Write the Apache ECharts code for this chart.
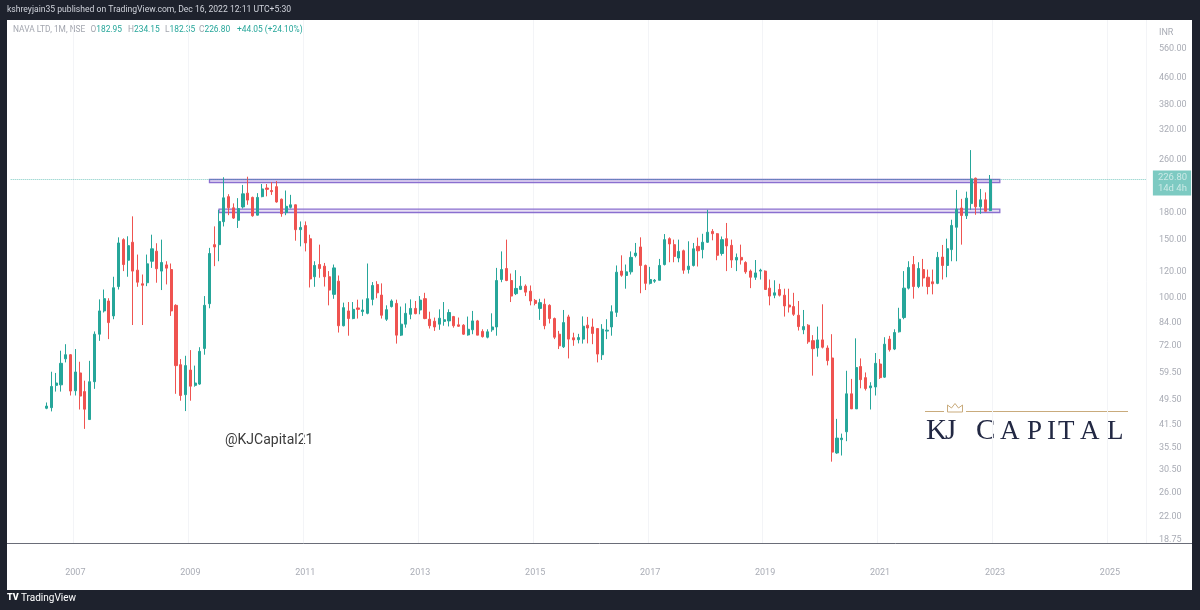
<!DOCTYPE html>
<html><head><meta charset="utf-8">
<script src="https://cdn.jsdelivr.net/npm/echarts@6/dist/echarts.min.js"></script>
<style>html,body{margin:0;padding:0;background:#1e222d;}#c{width:1200px;height:610px;}</style>
</head><body><div id="c"></div>
<script>
// ---- data (monthly, NAVA LTD, NSE) ----
const firstMonth = '2006-07';
const opens = [
46.6,46.8,54.6,54.8,65.6,67.5,
52.6,59.5,52.3,43.1,56.0,77.8,91.4,97.9,88.3,108.2,149.7,129.8,
147.0,121.2,110.3,111.1,128.9,138.2,120.4,125.7,121.7,95.0,63.0,51.2,
60.7,54.6,55.1,70.5,96.1,144.6,144.6,169.5,201.6,186.6,171.1,187.7,
206.5,200.5,177.3,201.6,214.0,210.3,216.0,198.0,180.5,187.2,190.5,160.4,
165.0,150.6,115.8,126.0,124.6,115.8,102.5,112.3,82.5,91.4,86.7,93.3,
91.0,89.9,99.0,109.8,102.0,86.3,94.2,96.3,77.3,83.4,89.3,93.0,
92.0,99.5,86.3,85.1,83.4,85.0,85.3,87.9,83.0,82.8,77.4,80.2,
85.3,79.3,76.2,80.2,81.8,113.6,122.6,112.8,103.0,106.1,108.5,104.8,
98.3,93.0,95.7,95.0,86.7,77.8,71.3,87.7,75.9,74.9,75.2,82.8,
81.8,80.9,67.5,79.5,81.8,90.5,120.4,116.8,119.8,134.0,142.3,125.2,
110.6,112.3,113.0,126.0,150.7,144.6,131.8,138.6,121.7,125.2,142.9,139.7,
147.0,158.5,156.0,136.0,150.7,143.9,130.0,132.4,127.8,120.4,115.4,120.4,
120.4,107.0,101.9,106.0,101.9,95.2,94.2,88.7,80.2,82.8,74.4,70.7,
74.8,70.7,66.0,34.2,37.5,39.6,51.5,46.4,62.2,57.6,53.7,54.0,
63.3,57.8,75.2,70.2,79.1,87.3,107.0,126.0,108.2,121.7,115.4,111.8,
110.6,132.7,125.2,139.7,163.1,186.3,176.6,192.1,229.0,187.9,197.2,182.95
];
const highs = [
48.5,60.0,59.5,69.4,72.6,67.8,
70.2,64.3,56.4,64.7,79.3,99.0,106.0,99.8,115.8,152.1,151.1,153.2,
175.9,135.0,117.6,135.0,154.9,146.0,149.7,128.9,126.9,95.7,65.5,67.0,
69.7,62.6,71.1,101.3,141.4,164.1,184.0,230.5,205.0,192.4,199.5,218.6,
231.4,201.6,206.5,220.0,220.0,223.0,224.6,199.0,210.3,204.1,191.0,169.8,
169.8,154.9,128.9,144.6,127.4,120.4,126.0,116.8,96.8,97.2,97.2,98.8,
98.9,126.9,111.6,112.3,110.6,95.0,99.0,98.8,94.2,96.3,99.0,97.9,
101.3,103.6,90.9,87.3,92.4,97.2,92.4,88.3,87.3,83.4,87.9,91.4,
85.9,80.5,80.5,89.9,123.1,138.0,149.7,118.4,121.2,116.3,109.8,109.0,
99.3,99.4,99.5,95.7,87.3,79.6,92.0,89.0,78.6,78.0,88.0,87.7,
86.7,81.0,83.4,86.3,95.0,125.2,134.3,126.0,138.0,146.3,152.1,126.0,
124.0,114.0,131.0,155.6,152.1,149.7,149.7,139.7,148.0,146.3,151.8,155.9,
184.0,161.0,156.6,153.0,168.0,149.7,136.0,144.6,128.9,121.7,130.0,122.4,
121.0,113.6,113.0,110.3,106.6,106.6,103.6,97.9,92.0,83.4,77.3,82.0,
95.7,72.0,77.8,43.3,39.1,60.4,57.1,75.6,65.8,59.7,55.8,68.3,
65.5,76.2,76.9,80.5,93.4,120.4,128.9,133.6,128.0,131.0,121.7,121.7,
137.5,144.3,150.7,171.8,211.2,198.5,208.7,278.2,230.0,212.6,207.6,234.15
];
const lows = [
46.3,45.6,52.3,52.3,64.0,50.9,
50.9,46.2,40.4,43.0,53.3,74.3,90.4,75.2,86.3,106.0,120.4,115.8,
82.9,108.0,82.9,108.5,123.1,111.1,105.6,109.8,88.3,51.5,49.1,45.7,
49.1,54.1,54.8,67.5,93.1,124.6,128.9,164.0,177.3,172.7,162.3,185.7,
190.5,175.4,177.0,200.7,202.0,204.0,193.3,175.4,177.3,185.7,148.6,142.9,
138.0,107.5,108.0,115.0,108.2,95.0,99.4,78.7,82.1,77.0,86.3,86.7,
88.3,89.3,95.0,99.8,86.7,85.3,93.6,72.9,76.8,81.4,86.3,89.3,
89.3,86.3,80.9,79.6,80.2,82.5,82.1,81.4,81.8,77.4,77.0,77.8,
77.3,76.0,75.6,79.1,77.0,111.5,112.3,97.2,102.0,105.6,101.3,95.0,
95.0,85.9,80.5,83.8,75.2,70.2,70.7,65.8,71.8,73.0,72.9,73.0,
72.6,64.0,65.1,75.2,77.0,87.7,115.8,106.6,117.6,132.4,103.3,105.6,
109.8,111.0,113.0,125.2,128.0,128.0,128.0,118.2,118.4,124.3,124.3,131.5,
146.3,149.0,129.8,134.0,120.4,123.1,120.4,126.0,118.2,107.0,113.3,113.6,
106.0,95.0,99.8,101.0,87.9,90.4,88.3,79.8,77.8,72.8,58.4,66.6,
70.5,62.7,32.2,34.0,33.6,37.1,46.4,46.4,53.5,52.7,46.2,50.9,
57.1,57.5,69.0,69.7,78.7,86.3,106.0,99.5,107.0,108.2,102.5,102.5,
110.0,113.6,115.4,128.9,128.9,144.6,172.7,184.0,177.8,179.0,181.6,182.35
];
const closes = [
47.3,54.2,55.5,63.6,67.5,52.5,
59.9,50.7,46.3,56.0,77.8,91.4,99.5,84.3,107.3,146.3,126.0,143.6,
120.4,111.5,109.2,126.6,140.5,122.4,127.8,122.9,91.4,62.6,50.9,62.6,
54.3,55.5,69.1,95.0,136.0,142.3,169.8,199.9,186.6,173.8,185.7,205.5,
196.8,176.6,200.5,212.6,212.0,208.7,194.3,179.2,188.5,190.5,160.4,162.9,
146.3,114.0,125.2,122.6,115.8,105.6,123.1,82.5,93.5,86.7,92.4,92.4,
92.0,99.5,109.0,103.6,88.7,92.2,97.9,77.3,83.4,89.9,93.0,89.7,
98.5,86.7,82.5,81.8,86.9,86.0,90.4,82.5,82.2,77.8,80.5,85.3,
77.3,76.5,79.1,81.8,112.8,121.7,112.8,101.3,106.8,108.5,104.1,97.9,
96.3,96.8,82.5,86.7,76.2,71.8,84.3,75.2,74.8,76.0,82.2,81.2,
78.2,67.8,80.5,80.0,90.9,119.5,117.0,119.8,132.4,136.4,125.2,110.6,
113.6,113.0,125.2,149.7,145.3,133.3,138.0,121.2,124.6,140.5,138.6,147.0,
157.6,156.0,134.3,149.7,143.3,130.0,132.4,130.0,119.8,115.4,118.9,121.2,
106.0,101.3,103.6,101.9,94.6,93.9,89.3,82.0,82.0,73.8,70.4,74.8,
71.1,64.8,34.4,37.9,37.9,51.5,46.4,61.8,56.8,53.4,54.4,63.6,
57.6,72.6,69.9,78.7,86.3,107.0,123.5,108.2,122.6,114.8,108.2,110.3,
132.4,125.2,140.6,165.2,184.9,176.9,199.5,227.9,187.9,197.2,182.2,226.8
];
const priceTicks = [560,460,380,320,260,180,150,120,100,84,72,59.5,49.5,41.5,35.5,30.5,26,22,18.75];
const upperZone = [222.3, 227.0];
const lowerZone = [180.6, 184.8];
const lastPrice = 226.8;
const axisStart = '2005-12', axisEnd = '2025-08';

// ---- categories (months) ----
const cats = [];
{
  let y = +axisStart.slice(0,4), m = +axisStart.slice(5,7);
  while (true) {
    const s = y + '-' + String(m).padStart(2,'0');
    cats.push(s);
    if (s === axisEnd) break;
    m++; if (m > 12) { m = 1; y++; }
  }
}
const start = cats.indexOf(firstMonth);
const candles = cats.map((c, i) => {
  const k = i - start;
  return (k >= 0 && k < opens.length) ? [opens[k], closes[k], lows[k], highs[k]] : '-';
});
const isYearLabel = (i, v) => v.endsWith('-01') && (+v.slice(0,4)) % 2 === 1;

const UP = '#26a69a', DOWN = '#ef5350';
const FONT = 'Roboto, sans-serif';
const HS = 8.4; // header font size
const chart = echarts.init(document.getElementById('c'));
const txt = (x, y, text, fill, size, extra) => Object.assign({
  type: 'text', x, y, silent: true,
  style: Object.assign({ text, fill, fontSize: size, fontFamily: FONT, verticalAlign: 'middle' }, extra || {})
});
const ohlc = (x, k, v) => ({
  type: 'text', x, y: 30, silent: true,
  style: { text: '{g|' + k + '}{t|' + v + '}', verticalAlign: 'middle',
    rich: { g: { fill: '#a3a6af', fontSize: HS, fontFamily: FONT }, t: { fill: UP, fontSize: HS, fontFamily: FONT } } }
});
const serifLetters = [['K',926,29,446],['J',945,29,446],['C',976,29,446],['A',1000,27,445.5],['P',1027,27,445.5],['I',1047,27,445.5],['T',1058,27,445.5],['A',1080,27,445.5],['L',1107,27,445.5]];

chart.setOption({
  animation: false,
  backgroundColor: '#1e222d',
  grid: { left: 10.7, top: 20, width: 1135.2, height: 523 },
  xAxis: {
    type: 'category', data: cats, boundaryGap: true,
    axisLine: { show: false }, axisTick: { show: false },
    axisLabel: { interval: isYearLabel, formatter: v => v.slice(0,4), color: '#a9acb5', fontSize: 9, margin: 25, fontFamily: FONT },
    splitLine: { show: true, interval: isYearLabel, lineStyle: { color: '#f3f4f7' } }
  },
  yAxis: {
    type: 'log', position: 'right', min: 18.34, max: 684.5,
    axisLine: { show: false }, axisTick: { show: false },
    axisLabel: { customValues: priceTicks, formatter: v => (+v).toFixed(2), color: '#a9acb5', fontSize: 9, margin: 13, fontFamily: FONT },
    splitLine: { show: false }
  },
  series: [{
    type: 'candlestick', data: candles, barWidth: 2.6, silent: true,
    itemStyle: { color: UP, color0: DOWN, borderColor: UP, borderColor0: DOWN, borderWidth: 1 },
    markArea: {
      silent: true,
      itemStyle: { color: 'rgba(149,117,205,0.22)', borderColor: '#8a6fd0', borderWidth: 1.3 },
      data: [
        [{ xAxis: '2009-05', yAxis: upperZone[0] }, { xAxis: '2023-02', yAxis: upperZone[1] }],
        [{ xAxis: '2009-07', yAxis: lowerZone[0] }, { xAxis: '2023-02', yAxis: lowerZone[1] }]
      ]
    },
    markLine: {
      silent: true, symbol: ['none','none'],
      lineStyle: { color: UP, type: 'dotted', width: 1, opacity: 0.6 },
      label: {
        show: true, position: 'end', distance: 7, offset: [0, 3.5],
        formatter: '{p|226.80}\n{d|14d 4h}',
        backgroundColor: UP, padding: [2, 4, 2, 5],
        rich: { p: { color: '#fff', fontSize: 9.5, lineHeight: 10.5, fontFamily: FONT },
                d: { color: '#fff', fontSize: 9.5, lineHeight: 10.5, fontFamily: FONT } }
      },
      data: [{ yAxis: lastPrice }]
    }
  }],
  graphic: [
    { type: 'rect', z: -100, silent: true, shape: { x: 7, y: 20, width: 1185, height: 570 }, style: { fill: '#ffffff' } },
    { type: 'line', silent: true, shape: { x1: 7, y1: 543.5, x2: 1192, y2: 543.5 }, style: { stroke: '#6a6d78', lineWidth: 1 } },
    txt(7, 10, 'kshreyjain35 published on TradingView.com, Dec 16, 2022 12:11 UTC+5:30', '#d1d4dc', 8.6),
    txt(13, 30, 'NAVA LTD, 1M, NSE', '#a3a6af', HS),
    ohlc(90.5, 'O', '182.95'),
    ohlc(128, 'H', '234.15'),
    ohlc(165, 'L', '182.35'),
    ohlc(199, 'C', '226.80'),
    txt(237, 30, '+44.05 (+24.10%)', UP, HS),
    txt(1159, 33, 'INR', '#a9acb5', 9),
    txt(225, 440, '@KJCapital21', '#3b3b3b', 14),
    txt(7, 598, 'TV', '#ffffff', 9, { fontWeight: 900 }),
    txt(21, 598, 'TradingView', '#ffffff', 10),
    { type: 'line', silent: true, shape: { x1: 925, y1: 411.5, x2: 944, y2: 411.5 }, style: { stroke: '#c9ab7c', lineWidth: 1 } },
    { type: 'line', silent: true, shape: { x1: 966, y1: 411.5, x2: 1128, y2: 411.5 }, style: { stroke: '#c9ab7c', lineWidth: 1 } },
    { type: 'polyline', silent: true, shape: { points: [[947.5,412],[947.5,405],[951.5,408],[955,403.5],[958.5,408],[962.5,405],[962.5,412],[947.5,412]] }, style: { stroke: '#c9ab7c', fill: 'none', lineWidth: 1 } }
  ].concat(serifLetters.map(([ch, x, s, y]) => ({
    type: 'text', x, y, silent: true,
    style: { text: ch, fill: '#222843', fontSize: s, fontFamily: '"Liberation Serif", "DejaVu Serif", serif', verticalAlign: 'bottom' }
  })))
});
</script>
</body></html>
